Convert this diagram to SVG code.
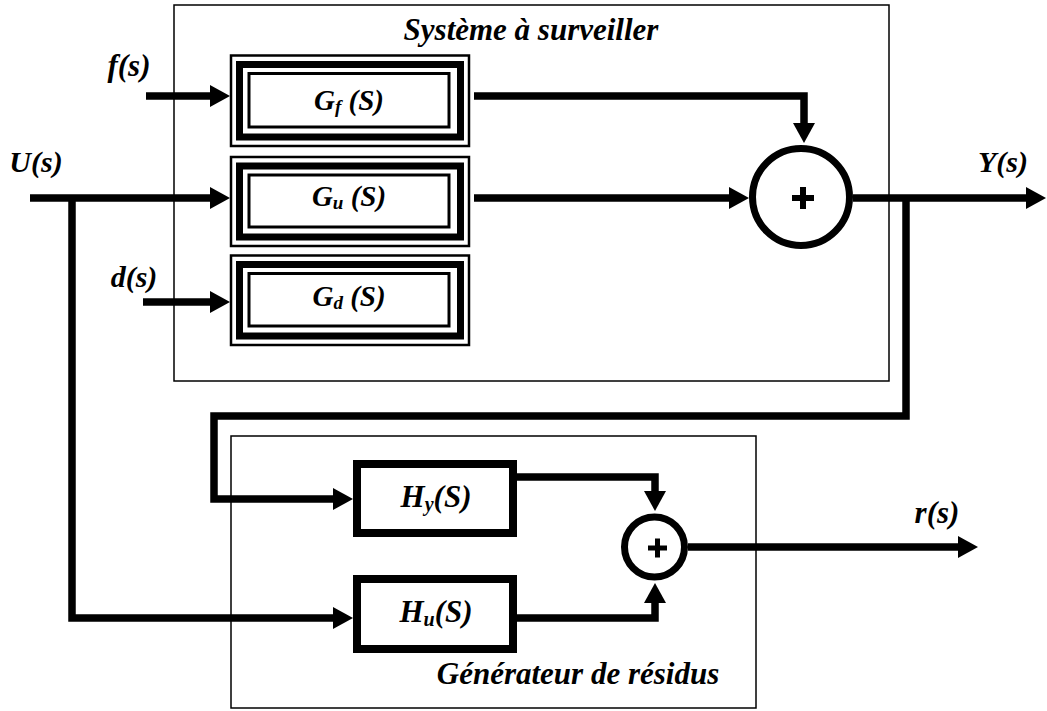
<svg xmlns="http://www.w3.org/2000/svg" width="1047" height="711" viewBox="0 0 1047 711">
<style>
.frame{fill:none;stroke:#000;stroke-width:1.5}
.o{fill:none;stroke:#000;stroke-width:2.5}
.t{fill:none;stroke:#000;stroke-width:7}
.i{fill:none;stroke:#000;stroke-width:3}
.hb{fill:#fff;stroke:#000;stroke-width:8}
.w{fill:none;stroke:#000;stroke-width:7.5;stroke-linejoin:miter}
.lbl{font-family:'Liberation Serif','Times New Roman',serif;font-weight:bold;font-style:italic;fill:#000}
.sum{fill:#fff;stroke:#000;stroke-width:7}
.plus{stroke:#000;stroke-width:6}
</style>
<defs>
<marker id="arr" viewBox="0 0 20 22" markerWidth="20" markerHeight="22" refX="10" refY="11" orient="auto" markerUnits="userSpaceOnUse">
<path d="M0,0 L20,11 L0,22 z" fill="#000"/>
</marker>
</defs>
<rect class="frame" x="174" y="5" width="715" height="376"/>
<rect class="frame" x="231" y="436" width="525" height="272"/>
<text class="lbl" x="531" y="40" font-size="31" text-anchor="middle">Système à surveiller</text>
<text class="lbl" x="578" y="684" font-size="31" text-anchor="middle">Générateur de résidus</text>

<g id="connectors">
<path class="w" d="M146,96 H220" marker-end="url(#arr)"/>
<path class="w" d="M30,198 H220" marker-end="url(#arr)"/>
<path class="w" d="M143,302 H220" marker-end="url(#arr)"/>
<path class="w" d="M72,198 V618 H343" marker-end="url(#arr)"/>
<path class="w" d="M474,96 H804 V133" marker-end="url(#arr)"/>
<path class="w" d="M474,198 H739" marker-end="url(#arr)"/>
<path class="w" d="M853,198 H1036" marker-end="url(#arr)"/>
<path class="w" d="M906,198 V416 H214 V499 H343" marker-end="url(#arr)"/>
<path class="w" d="M517,477 H655 V501" marker-end="url(#arr)"/>
<path class="w" d="M517,618 H655 V593" marker-end="url(#arr)"/>
<path class="w" d="M688,547 H968" marker-end="url(#arr)"/>
</g>

<g id="Gf">
<rect class="o" x="231" y="55.5" width="238" height="90.5"/>
<rect class="t" x="239.5" y="64.5" width="221" height="72.5"/>
<rect class="i" x="249" y="73.5" width="200" height="53.5"/>
<text class="lbl" x="349" y="110" font-size="29" text-anchor="middle">G<tspan font-size="19" dy="3">f</tspan><tspan dy="-3"> (S)</tspan></text>
</g>
<g id="Gu">
<rect class="o" x="231" y="157" width="238" height="89"/>
<rect class="t" x="239.5" y="166" width="221" height="71"/>
<rect class="i" x="249" y="175" width="200" height="52"/>
<text class="lbl" x="349" y="206" font-size="29" text-anchor="middle">G<tspan font-size="19" dy="3">u</tspan><tspan dy="-3"> (S)</tspan></text>
</g>
<g id="Gd">
<rect class="o" x="231" y="255.5" width="238" height="89.5"/>
<rect class="t" x="239.5" y="264.5" width="221" height="71.5"/>
<rect class="i" x="249" y="273.5" width="200" height="52.5"/>
<text class="lbl" x="349" y="306" font-size="29" text-anchor="middle">G<tspan font-size="19" dy="3">d</tspan><tspan dy="-3"> (S)</tspan></text>
</g>

<g id="sum1">
<circle class="sum" cx="801" cy="197" r="48.5"/>
<path class="plus" d="M792,198 H814 M803,187 V209"/>
</g>

<g id="Hy">
<rect class="hb" x="357" y="464" width="156" height="69"/>
<text class="lbl" x="436" y="507" font-size="31" text-anchor="middle">H<tspan font-size="20" dy="4">y</tspan><tspan dy="-4">(S)</tspan></text>
</g>
<g id="Hu">
<rect class="hb" x="357" y="579" width="156" height="70"/>
<text class="lbl" x="436" y="622" font-size="31" text-anchor="middle">H<tspan font-size="20" dy="4">u</tspan><tspan dy="-4">(S)</tspan></text>
</g>

<g id="sum2">
<circle class="sum" cx="654.5" cy="547" r="30"/>
<path class="plus" d="M648,548 H667 M657.5,538.5 V557.5" style="stroke-width:5"/>
</g>

<g id="labels">
<text class="lbl" x="129" y="76" font-size="31" text-anchor="middle">f(s)</text>
<text class="lbl" x="36" y="172" font-size="30" text-anchor="middle">U(s)</text>
<text class="lbl" x="134" y="287" font-size="30" text-anchor="middle">d(s)</text>
<text class="lbl" x="1003" y="172" font-size="30" text-anchor="middle">Y(s)</text>
<text class="lbl" x="937" y="523" font-size="31" text-anchor="middle">r(s)</text>
</g>
</svg>
